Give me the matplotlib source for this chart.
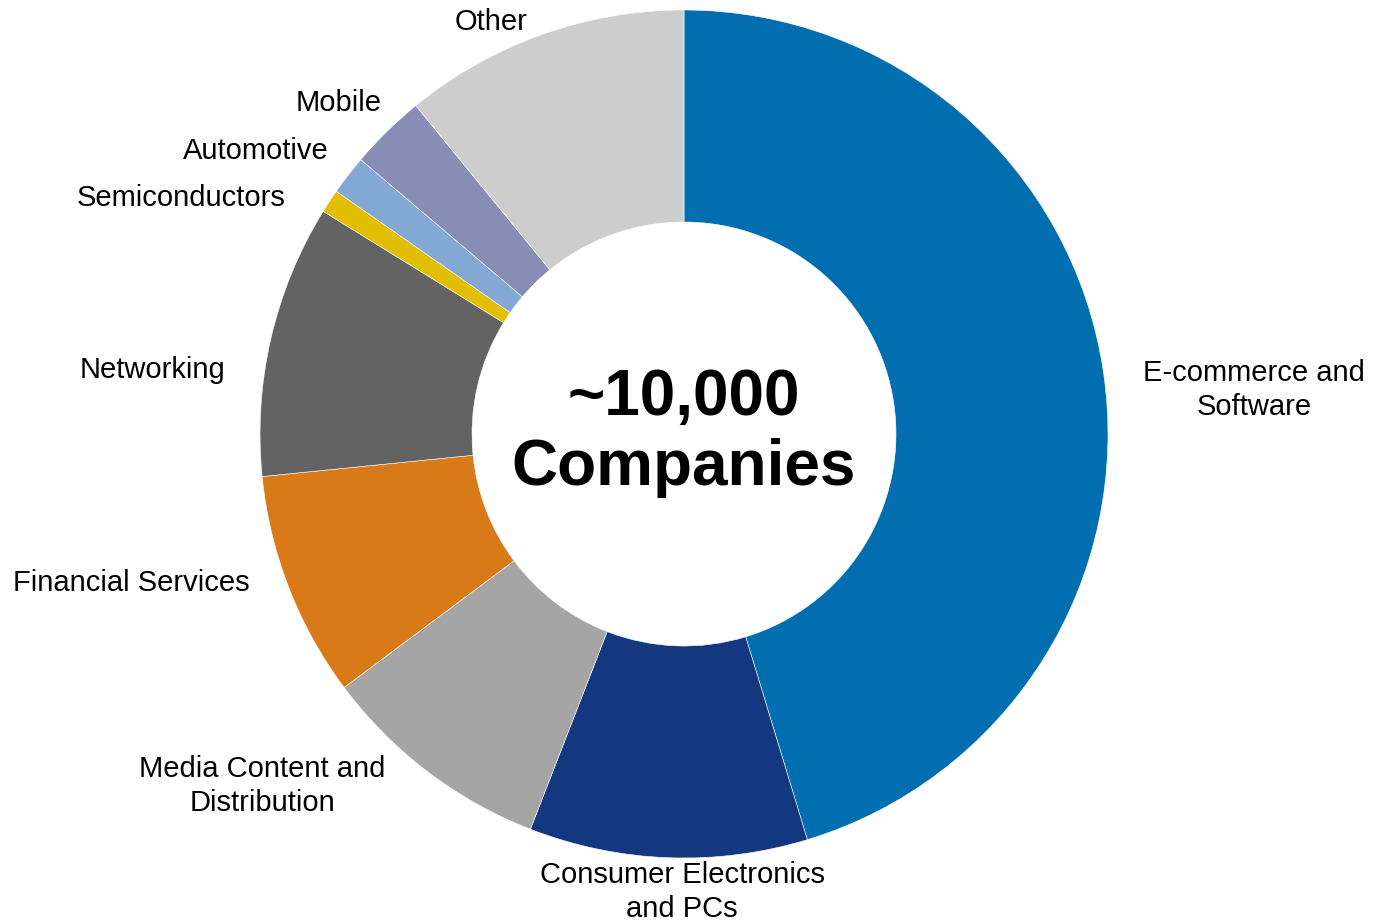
import matplotlib.pyplot as plt

plt.rcParams['font.family'] = ['Liberation Sans', 'DejaVu Sans']

# share of companies by sector (%), clockwise from 12 o'clock
sectors = ['E-commerce and\nSoftware', 'Consumer Electronics\nand PCs',
           'Media Content and\nDistribution', 'Financial Services', 'Networking',
           'Semiconductors', 'Automotive', 'Mobile', 'Other']
shares = [45.3, 10.6, 8.9, 8.6, 10.4, 0.9, 1.5, 2.9, 10.9]
colors = ['#006EAF', '#14387F', '#A5A5A5', '#D97A18', '#636363',
          '#E2BE00', '#84A8D4', '#878DB5', '#CDCDCD']

# label anchor points in pixels (x, y from top)
label_pos = [(1254, 390), (682, 892), (262, 786), (131, 583), (152, 370),
             (181, 198), (256, 151), (339, 103), (491, 22)]

W, H = 1373, 921
cx, cy, R = 684, 434, 424

fig = plt.figure(figsize=(W / 100, H / 100), dpi=100)
ax = fig.add_axes([0, 0, 1, 1])

ax.pie(shares, colors=colors, startangle=90, counterclock=False,
       center=(cx, H - cy), radius=R,
       wedgeprops=dict(width=R / 2, edgecolor='white', linewidth=0.4))

ax.set_xlim(0, W)
ax.set_ylim(0, H)
ax.set_aspect('equal')
ax.axis('off')

for name, (lx, ly) in zip(sectors, label_pos):
    ax.text(lx, H - ly, name, ha='center', va='center', fontsize=21,
            linespacing=1.25, color='black')

ax.text(cx, H - 433, '~10,000\nCompanies', ha='center', va='center',
        fontsize=46, fontweight='bold', linespacing=1.2)

fig.savefig('out.png', dpi=100)
